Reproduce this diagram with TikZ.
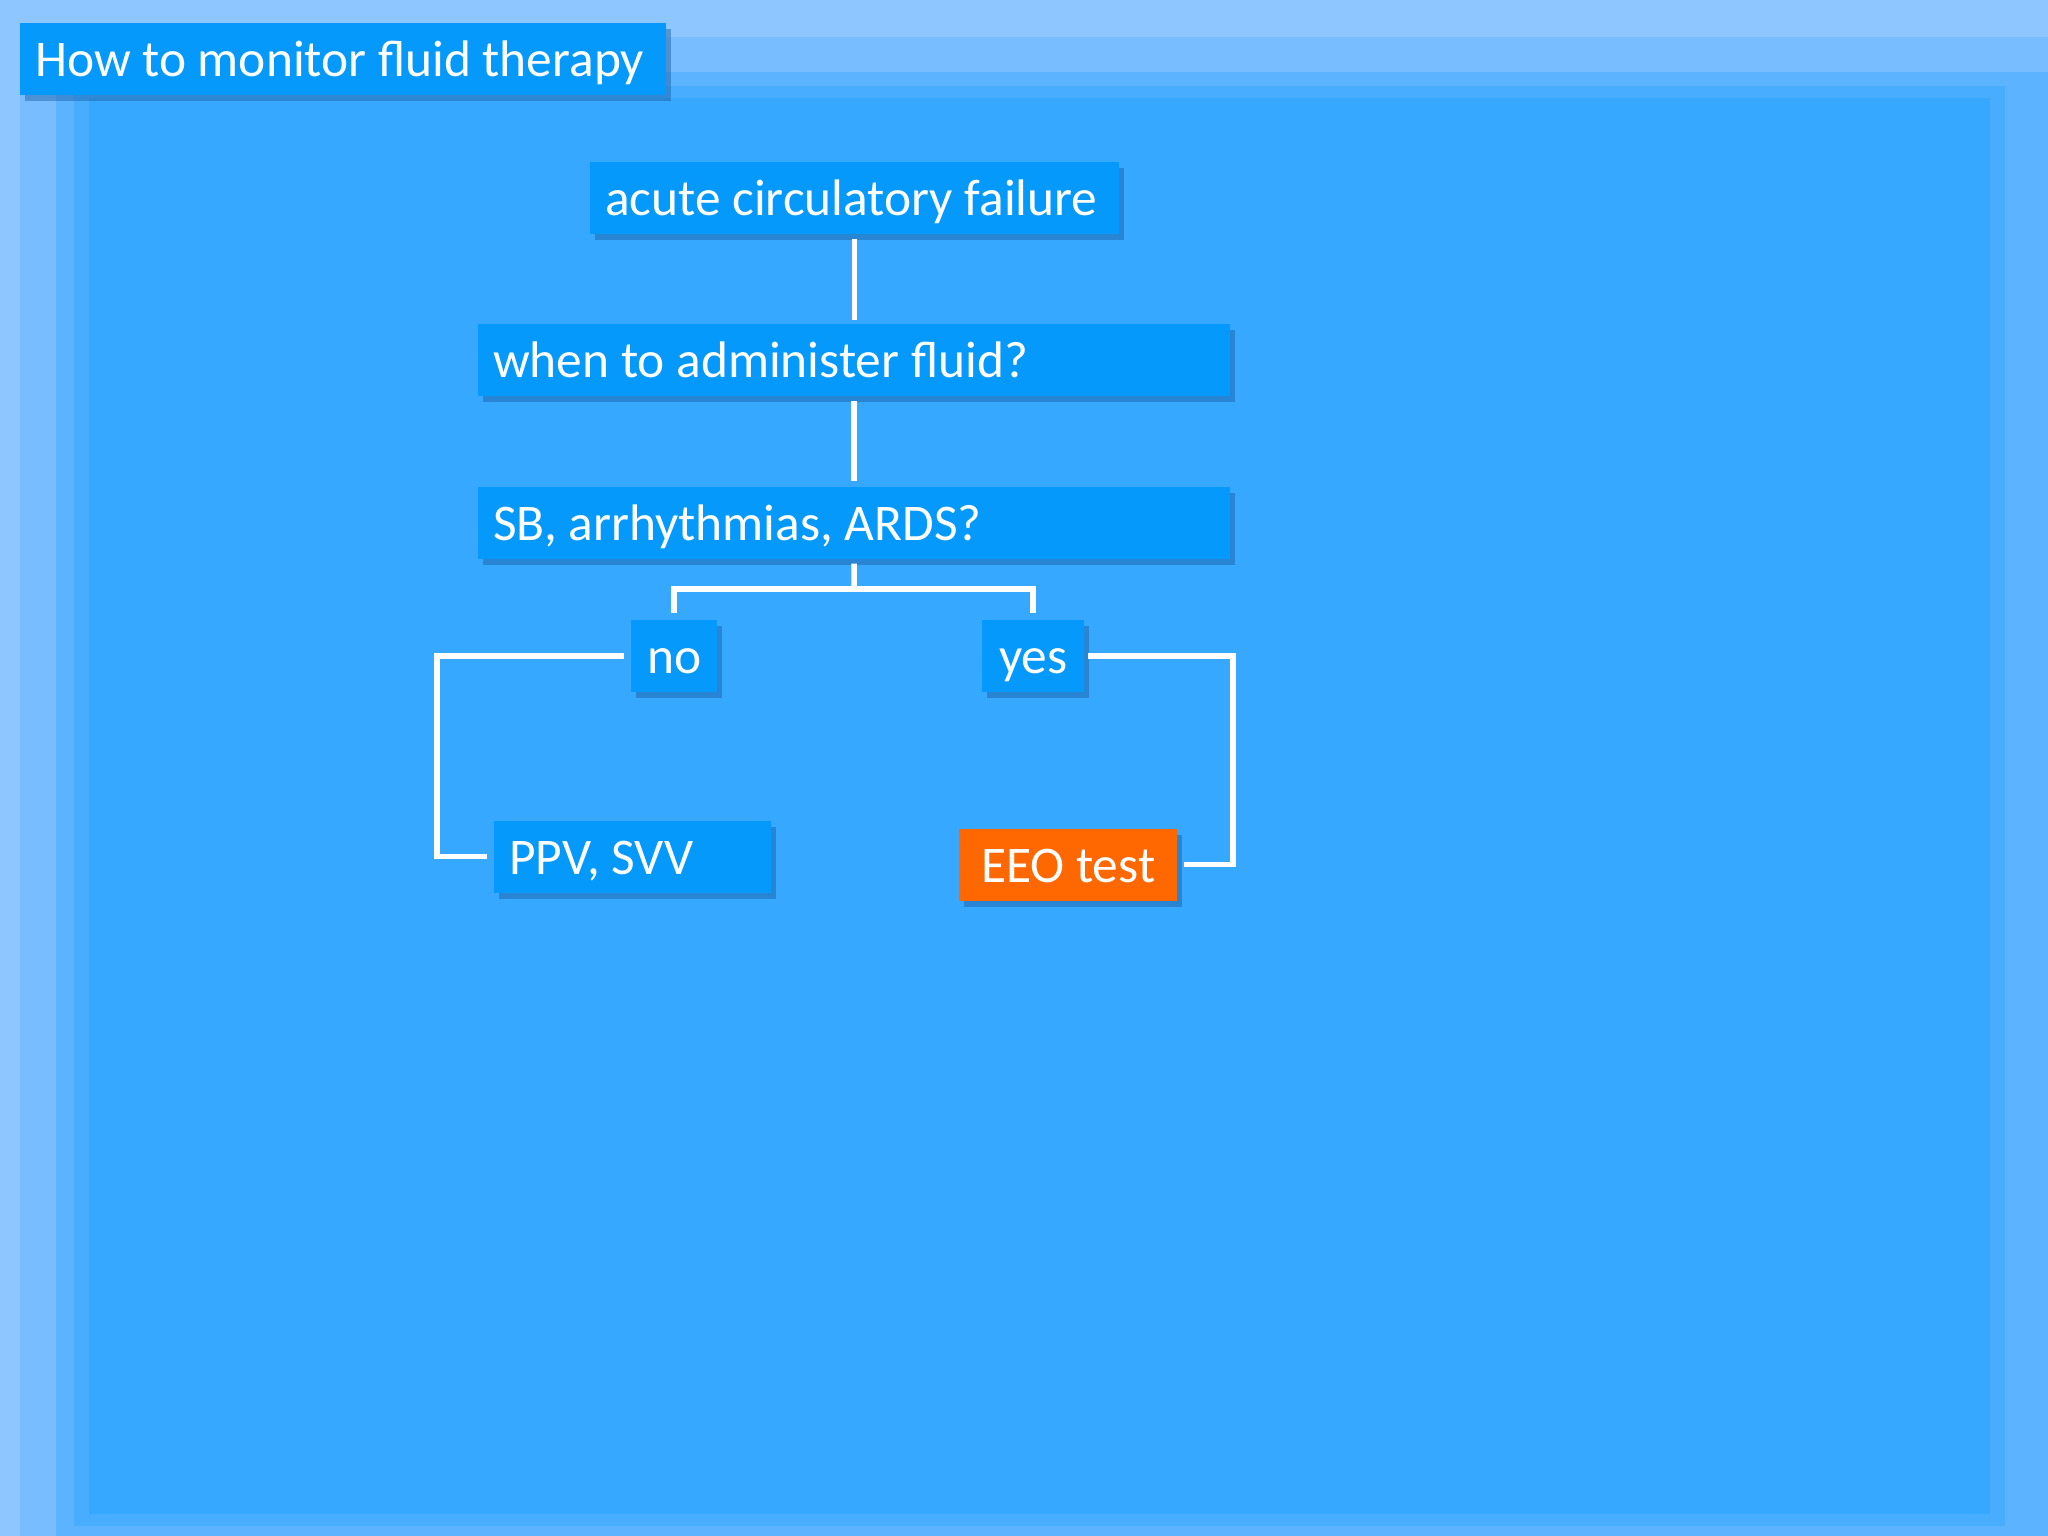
\documentclass[tikz,border=0pt]{standalone}
\usepackage{fontspec}
\newfontfamily\bodyfont{Carlito}
\usetikzlibrary{shadows,calc}
\definecolor{bgmain}{RGB}{54,168,255}
\definecolor{bgedgeA}{RGB}{142,199,255}
\definecolor{bgedgeB}{RGB}{120,189,255}
\definecolor{bgedgeC}{RGB}{92,179,255}
\definecolor{bgedgeD}{RGB}{72,173,255}
\definecolor{boxblue}{RGB}{5,153,252}
\definecolor{boxorange}{RGB}{255,104,0}
\definecolor{shadowblue}{RGB}{22,92,160}
\newcommand\bfnt{\bodyfont\fontsize{51.4}{60}\selectfont}
\newcommand\lbox[2]{\makebox[#1][l]{#2}}
\newcommand\cbx[2]{\makebox[#1][c]{#2}}
\begin{document}
\begin{tikzpicture}[x=1pt,y=-1pt,
  box/.style={fill=boxblue, text=white, inner xsep=15pt, inner ysep=0pt,
    minimum height=72pt, font=\bfnt, text height=42pt, text depth=7pt,
    anchor=west,
    drop shadow={shadow xshift=5pt, shadow yshift=-6pt, fill=shadowblue, opacity=0.45}},
  conn/.style={draw=white, line width=5.5pt, shorten <=5pt, shorten >=7pt}]
\useasboundingbox (0,0) rectangle (2048,1536);
% background
\fill[bgedgeA] (0,0) rectangle (2048,1536);
\fill[bgedgeB] (20,37) rectangle (2048,1536);
\fill[bgedgeC] (56,72) rectangle (2048,1536);
\fill[bgedgeD] (74,86) rectangle (2005,1526);
\fill[bgmain] (89,98) rectangle (1990,1514);
% nodes
\node[box] (title) at (20,59.5) {\lbox{616pt}{How to monitor fluid therapy}};
\node[box] (acute) at (590,198) {\lbox{499pt}{acute circulatory failure}};
\node[box] (when) at (478,360) {\lbox{722pt}{when to administer fluid?}};
\node[box] (sb) at (478,522.5) {\lbox{722pt}{SB, arrhythmias, ARDS?}};
\node[box] (no) at (631,656) {\cbx{56pt}{no}};
\node[box] (yes) at (982,656) {\cbx{72pt}{yes}};
\node[box] (ppv) at (494,856.5) {\lbox{247pt}{PPV, SVV}};
\node[box, fill=boxorange, inner xsep=20pt] (eeo) at (959,864.5) {\cbx{178pt}{EEO test}};
% connectors
\coordinate (br) at (854,589);
\coordinate (lcol) at (437,0);
\coordinate (rcol) at (1233,0);
\draw[conn, shorten >=4pt] (acute.south) -- (acute.south |- when.north);
\draw[conn, shorten >=5pt] (when.south) -- (when.south |- sb.north);
\draw[conn, shorten >=0pt] (sb.south) -- (br);
\draw[conn, shorten <=7pt] (no.north) |- (br) -| (yes.north);
\draw[conn, shorten <=7pt] (no.west) -- (no.west -| lcol) |- (ppv.west);
\draw[conn, shorten <=4pt] (yes.east) -- (yes.east -| rcol) |- (eeo.east);
\end{tikzpicture}
\end{document}
